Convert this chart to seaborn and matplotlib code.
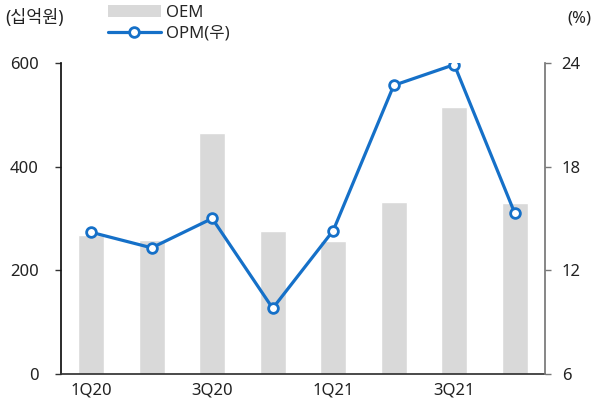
import numpy as np
import pandas as pd
import matplotlib.pyplot as plt
import seaborn as sns
from matplotlib.patches import Patch
from matplotlib.lines import Line2D

quarters = ['1Q20', '2Q20', '3Q20', '4Q20', '1Q21', '2Q21', '3Q21', '4Q21']
oem = [268, 259, 465, 276, 256, 332, 514, 330]
opm = [14.2, 13.3, 15.0, 9.8, 14.3, 22.7, 23.9, 15.3]
tick_labels = ['1Q20', '3Q20', '1Q21', '3Q21']

def main():
    sns.set_theme(style="white")
    plt.rcParams['font.family'] = ['Noto Sans', 'Noto Sans CJK KR', 'DejaVu Sans']
    plt.rcParams['font.size'] = 12

    bar_color = '#d9d9d9'
    line_color = '#1570c8'

    df = pd.DataFrame({'quarter': quarters, 'oem': oem, 'opm': opm, 'pos': np.arange(len(quarters))})

    fig = plt.figure(figsize=(5.97, 4.11), dpi=100)
    ax = fig.add_axes([0.102, 0.09, 0.811, 0.757])

    sns.barplot(data=df, x='quarter', y='oem', color=bar_color, width=0.43,
                saturation=1, ax=ax)
    ax.set_ylim(0, 600)
    ax.set_yticks([0, 200, 400, 600])
    ax.set_xlim(-0.5, len(quarters) - 0.5)
    ax.set_xlabel('')
    ax.set_ylabel('')

    # x labels on every other quarter, tick marks between groups
    ax.set_xticks([0, 2, 4, 6])
    ax.set_xticklabels(tick_labels, fontsize=12, color='#222222')
    ax.tick_params(axis='x', length=0, pad=6)
    ax.set_xticks([-0.5, 1.5, 3.5, 5.5, 7.5], minor=True)
    ax.tick_params(axis='x', which='minor', length=5, width=1, color='#333333', direction='out')
    ax.tick_params(axis='y', length=4, width=1, color='#333333', direction='out',
                   labelsize=12, labelcolor='#222222', pad=12)

    for side in ['top', 'right']:
        ax.spines[side].set_visible(False)
    ax.spines['left'].set_color('#111111')
    ax.spines['bottom'].set_color('#333333')

    ax2 = ax.twinx()
    sns.lineplot(data=df, x='pos', y='opm', ax=ax2, color=line_color, linewidth=2.3,
                 marker='o', markersize=7, markerfacecolor='white',
                 markeredgecolor=line_color, markeredgewidth=2)
    ax2.set_ylim(6, 24)
    ax2.set_yticks([6, 12, 18, 24])
    ax2.set_xlim(-0.5, len(quarters) - 0.5)
    ax2.set_xlabel('')
    ax2.set_ylabel('')
    ax2.tick_params(axis='y', length=4, width=1, color='#777777', direction='out',
                    labelsize=12, labelcolor='#222222', pad=8)
    for side in ['top', 'left', 'bottom']:
        ax2.spines[side].set_visible(False)
    ax2.spines['right'].set_color('#777777')

    fig.text(0.008, 0.955, '(십억원)', fontsize=12.5, color='#222222', va='center')
    fig.text(0.99, 0.955, '(%)', fontsize=12, color='#222222', va='center', ha='right')

    handles = [
        Patch(facecolor=bar_color, edgecolor='none', label='OEM'),
        Line2D([0], [0], color=line_color, linewidth=2.3, marker='o', markersize=7,
               markerfacecolor='white', markeredgecolor=line_color, markeredgewidth=2,
               label='OPM(우)'),
    ]
    fig.legend(handles=handles, loc='upper left', bbox_to_anchor=(0.155, 1.025),
               frameon=False, fontsize=12, handlelength=3.2, handletextpad=0.3,
               labelspacing=0.3)

    fig.savefig('out.png', dpi=100)
    plt.close(fig)

if __name__ == "__main__":
    main()
